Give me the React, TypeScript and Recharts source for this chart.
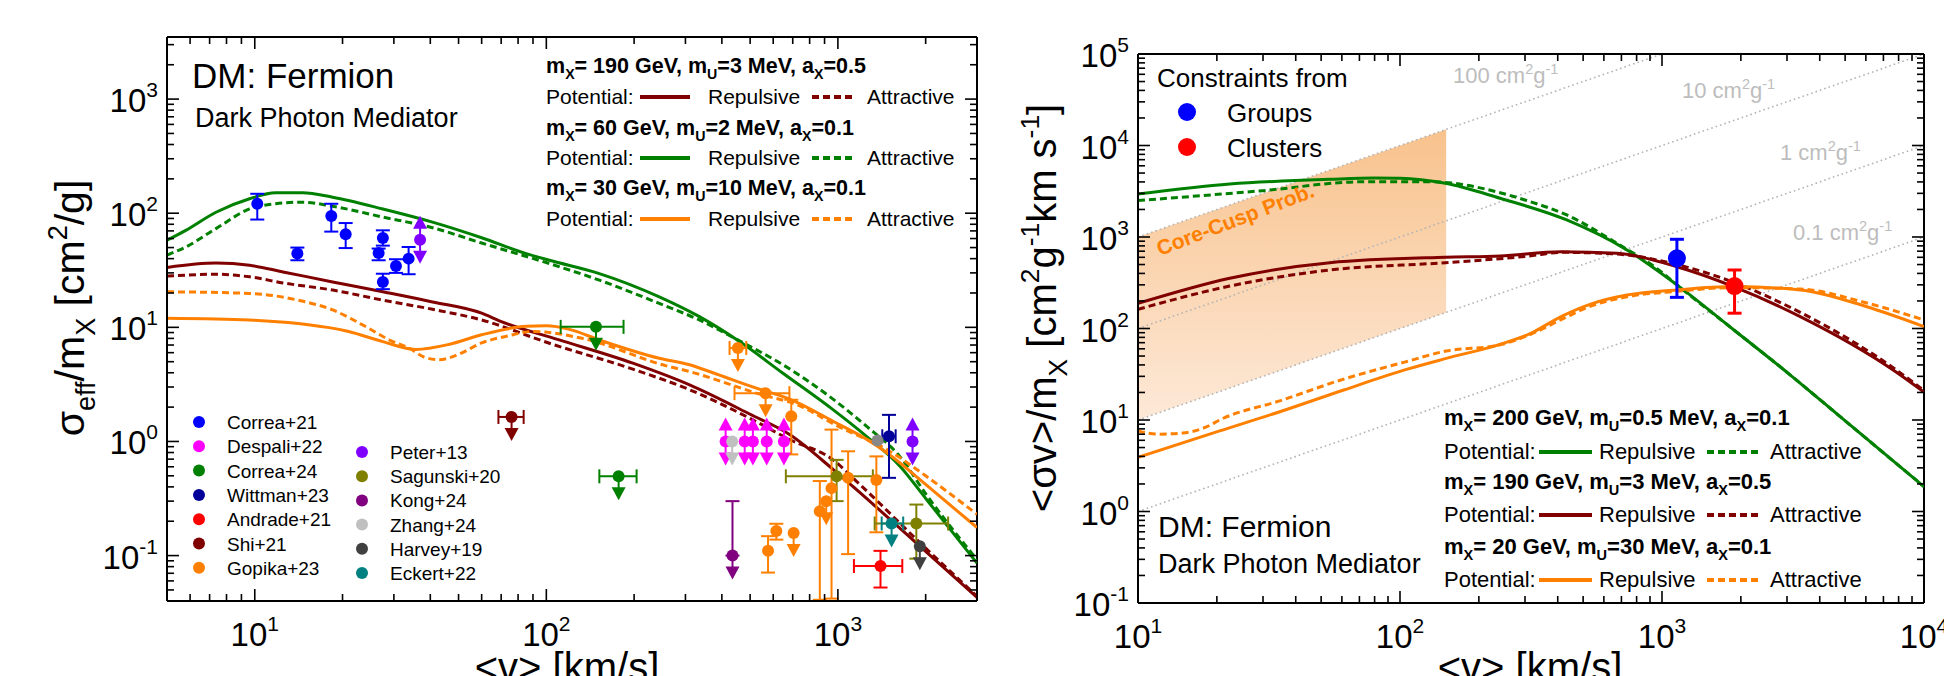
import React from 'react';
import { ComposedChart, Line, Scatter, Area, XAxis, YAxis, ErrorBar, ReferenceLine } from 'recharts';

const FONT = "'Liberation Sans', Arial, Helvetica, sans-serif";

// ---------- axis ranges ----------
const leftV = [5, 3000];
const leftS = [0.04, 3500];
const rightV = [10, 10000];
const rightS = [0.1, 100000];
const STEPS = [1, 2, 3, 4, 5, 6, 7, 8, 9];

// ---------- left panel: sigma_eff/m_X [cm^2/g] vs <v> ----------
const greenRepL = [[5, 58], [5.8, 70.8], [7.36, 102], [9.6, 134], [11.8, 151], [14.6, 151], [18.5, 138], [27.5, 109], [40.7, 83.6], [60, 61], [85.3, 44.3], [102.5, 38.7], [152, 29.6], [244, 18.5], [335, 12.4], [460, 7.5], [648, 3.96], [962, 1.9], [1253, 1.11], [1630, 0.61], [2014, 0.31], [3000, 0.086]];
const greenAttL = [[5, 43], [5.8, 50.6], [7.36, 73.3], [9.6, 109], [11.8, 121], [14.6, 125], [18.5, 115], [27.5, 92.5], [40.7, 74.6], [60, 54.8], [102.5, 36.2], [152, 25.9], [244, 16.2], [335, 11.6], [460, 7.6], [648, 4.7], [962, 2.35], [1253, 1.36], [1630, 0.74], [2014, 0.34], [3000, 0.092]];
const darkRedRepL = [[5, 33.5], [7.36, 36.6], [9.6, 35], [12.5, 30.6], [18.5, 25], [27.5, 20.5], [40.7, 16.7], [60, 13.3], [69, 11.4], [110, 7.8], [198, 4.85], [310, 3.13], [498, 1.74], [683, 1.15], [962, 0.57], [1156, 0.38], [1960, 0.114], [3000, 0.043]];
const darkRedAttL = [[5, 28.1], [7.36, 29.2], [9.6, 27.7], [12.5, 24.5], [18.5, 21.2], [27.5, 17.3], [40.7, 14.4], [60, 11.6], [102.5, 7.25], [198, 4.3], [310, 2.84], [498, 1.6], [683, 1.04], [962, 0.69], [1156, 0.45], [1960, 0.122], [3000, 0.044]];
const orangeRepL = [[5, 12.0], [9.6, 11.6], [14.1, 10.8], [21, 9.2], [27.5, 7.5], [35.7, 6.4], [46.5, 7.1], [60, 8.6], [85.3, 10.2], [100, 10.3], [120, 9.6], [152, 7.75], [244, 5.36], [310, 4.7], [383, 3.9], [525, 2.93], [683, 2.35], [988, 1.45], [1250, 1.05], [1507, 0.76], [2000, 0.42], [3000, 0.176]];
const orangeAttL = [[5, 20.5], [9.6, 19.8], [14.1, 17.3], [18.5, 14.2], [24.1, 10.1], [29, 7.74], [33.9, 6.56], [38, 5.5], [43, 5.2], [50, 5.8], [60, 7.3], [73.6, 8.4], [90, 9.2], [133, 8.0], [258, 4.6], [310, 4.1], [437, 3.1], [525, 2.65], [740, 2.05], [988, 1.38], [1507, 0.82], [2000, 0.5], [3000, 0.23]];

type Pt = { v: number; s: number; vLo?: number; vHi?: number; sLo?: number; sHi?: number; lim?: 'down' | 'both' };

const correa21: Pt[] = [
  { v: 10.2, s: 121, sLo: 88, sHi: 148 },
  { v: 14.0, s: 44.3, sLo: 38.7, sHi: 50 },
  { v: 18.3, s: 94.4, sLo: 69, sHi: 121 },
  { v: 20.5, s: 65.3, sLo: 49.5, sHi: 82 },
  { v: 27.5, s: 60.7, sLo: 52, sHi: 70.8 },
  { v: 26.6, s: 44.8, sLo: 38.7, sHi: 49 },
  { v: 27.5, s: 25, sLo: 21.6, sHi: 29.5 },
  { v: 30.5, s: 34.5, sLo: 30, sHi: 39.5 },
  { v: 33.7, s: 40, sLo: 29.2, sHi: 50.6 },
];
const despali22: Pt[] = [
  { v: 412, s: 1, lim: 'both' }, { v: 479, s: 1, lim: 'both' }, { v: 511, s: 1, lim: 'both' },
  { v: 570, s: 1, lim: 'both' }, { v: 653, s: 1, lim: 'both' },
];
const correa24: Pt[] = [
  { v: 148, s: 10.1, vLo: 112, vHi: 184, lim: 'down' },
  { v: 177, s: 0.495, vLo: 152, vHi: 204, lim: 'down' },
];
const wittman23: Pt[] = [{ v: 1497, s: 1.11, vLo: 1420, vHi: 1578, sLo: 0.48, sHi: 1.71 }];
const andrade21: Pt[] = [{ v: 1400, s: 0.081, vLo: 1135, vHi: 1663, sLo: 0.0525, sHi: 0.11 }];
const shi21: Pt[] = [{ v: 76, s: 1.64, vLo: 68.5, vHi: 83.6, lim: 'down' }];
const gopika23: Pt[] = [
  { v: 454, s: 6.6, vLo: 425, vHi: 485, lim: 'down' },
  { v: 565, s: 2.65, vLo: 442, vHi: 682, lim: 'down' },
  { v: 692, s: 1.66, sLo: 0.77, sHi: 2.32 },
  { v: 867, s: 0.245, sLo: 0.041, sHi: 0.45 },
  { v: 951, s: 0.39, sLo: 0.042, sHi: 1.27 },
  { v: 912, s: 0.3, lim: 'down' },
  { v: 1084, s: 0.48, sLo: 0.103, sHi: 0.82 },
  { v: 1355, s: 0.46, sLo: 0.16, sHi: 0.74 },
  { v: 615, s: 0.164, sLo: 0.138, sHi: 0.19 },
  { v: 576, s: 0.11, sLo: 0.071, sHi: 0.148 },
  { v: 705, s: 0.158, lim: 'down' },
];
const peter13: Pt[] = [{ v: 36.9, s: 58.6, lim: 'both' }, { v: 1803, s: 1.0, lim: 'both' }];
const sagunski20: Pt[] = [
  { v: 990, s: 0.495, vLo: 663, vHi: 1318, sLo: 0.3, sHi: 0.69 },
  { v: 1858, s: 0.191, vLo: 1337, vHi: 2388, sLo: 0.094, sHi: 0.28 },
];
const kong24: Pt[] = [{ v: 435, s: 0.1, sLo: 0.1, sHi: 0.3, lim: 'down' }];
const zhang24: Pt[] = [{ v: 434, s: 1.0, lim: 'down' }];
const harvey19: Pt[] = [{ v: 1910, s: 0.121, lim: 'down' }];
const harvey19b: Pt[] = [{ v: 1367, s: 1.02 }];
const eckert22: Pt[] = [{ v: 1528, s: 0.191, vLo: 1413, vHi: 1675, lim: 'down' }];

const refNames = ['Correa+21', 'Despali+22', 'Correa+24', 'Wittman+23', 'Andrade+21', 'Shi+21', 'Gopika+23', 'Peter+13', 'Sagunski+20', 'Kong+24', 'Zhang+24', 'Harvey+19', 'Eckert+22'];
const refPoints = [correa21, despali22, correa24, wittman23, andrade21, shi21, gopika23, peter13, sagunski20, kong24, zhang24, harvey19, eckert22];
const refColors = ['#0000ff', '#ff00ff', '#008000', '#000099', '#ff0000', '#800000', '#ff8000', '#8000ff', '#808000', '#800080', '#c0c0c0', '#404040', '#008080'];

// ---------- right panel: <sigma v>/m_X vs <v> ----------
const greenRepR = [[10, 2950], [22.4, 3790], [54, 4270], [80, 4400], [100, 4380], [149, 3860], [241, 2650], [433, 1535], [735, 721], [1140, 300], [1876, 97], [3090, 31], [4800, 10.8], [10000, 1.87]];
const greenAttR = [[10, 2500], [30, 3210], [72.5, 4020], [130, 4020], [241, 3050], [305, 2500], [433, 1740], [673, 853], [1000, 410], [1140, 300], [1876, 97], [3090, 31], [4800, 10.8], [10000, 1.87]];
const darkRedRepR = [[10, 188], [22.4, 354], [54, 524], [149, 600], [241, 620], [412, 690], [673, 663], [1140, 473], [1876, 287], [3370, 135], [7650, 35], [10000, 20.2]];
const darkRedAttR = [[10, 162], [22.4, 291], [54, 436], [149, 524], [312, 620], [412, 680], [673, 650], [1140, 500], [1876, 320], [3370, 150], [7650, 37], [10000, 21]];
const orangeRepR = [[10, 3.9], [20.5, 7.6], [35, 12.4], [61, 21.3], [105, 35.5], [150, 47.1], [239, 66.7], [314, 88], [412, 135], [541, 187], [735, 232], [1140, 264], [1876, 287], [3370, 264], [6050, 173], [10000, 105]];
const orangeAttR = [[10, 7.6], [11.9, 7.0], [14.8, 7.2], [18.4, 8.5], [20.5, 10], [35, 16.3], [61, 28], [105, 43.2], [150, 56.7], [239, 66], [314, 86], [412, 125], [541, 178], [735, 222], [1140, 255], [1876, 280], [3370, 270], [6050, 190], [10000, 124]];
const groups: Pt[] = [{ v: 1140, s: 585, sLo: 219, sHi: 944 }];
const clusters: Pt[] = [{ v: 1892, s: 291, sLo: 147, sHi: 436 }];
const crossSections = [100, 10, 1, 0.1]; // cm^2/g
const corecuspV = [10, 150];
const corecuspK = [1, 100];

// ---------- helpers ----------
const GREEN = '#008000';
const DARKRED = '#800000';
const ORANGE = '#ff8000';

const curve = (pts: number[][]) => pts.map(([x, y]) => ({ x, y }));
const rows = (pts: Pt[]) =>
  pts.map((p) => ({
    x: p.v,
    y: p.s,
    lim: p.lim,
    ex: p.vLo != null ? [p.v - p.vLo, (p.vHi as number) - p.v] : undefined,
    ey: p.sLo != null ? [p.s - p.sLo, (p.sHi as number) - p.s] : undefined,
  }));

const logTicks = (lo: number, hi: number) => {
  const out: number[] = [];
  for (let e = Math.floor(Math.log10(lo)); e <= Math.ceil(Math.log10(hi)); e++) {
    for (const m of STEPS) {
      const v = +(m * Math.pow(10, e)).toPrecision(6);
      if (v >= lo * 0.999 && v <= hi * 1.001) out.push(v);
    }
  }
  return out;
};
const isMajor = (v: number) => {
  const e = Math.log10(v);
  return Math.abs(e - Math.round(e)) < 1e-6;
};

const xTick = (plotH: number) => (p: any) => {
  const { x, y, payload } = p;
  const v = payload.value as number;
  const major = isMajor(v);
  const len = major ? 12 : 7;
  return (
    <g>
      <line x1={x} x2={x} y1={y} y2={y - len} stroke="#000" strokeWidth={1.6} />
      <line x1={x} x2={x} y1={y - plotH} y2={y - plotH + len} stroke="#000" strokeWidth={1.6} />
      {major && (
        <text x={x} y={y + 45} textAnchor="middle" fontSize={33} fill="#000" fontFamily={FONT}>
          10<tspan dy={-15} fontSize={21}>{Math.round(Math.log10(v))}</tspan>
        </text>
      )}
    </g>
  );
};
const yTick = (plotW: number) => (p: any) => {
  const { x, y, payload } = p;
  const v = payload.value as number;
  const major = isMajor(v);
  const len = major ? 12 : 7;
  return (
    <g>
      <line x1={x} x2={x + len} y1={y} y2={y} stroke="#000" strokeWidth={1.6} />
      <line x1={x + plotW} x2={x + plotW - len} y1={y} y2={y} stroke="#000" strokeWidth={1.6} />
      {major && (
        <text x={x - 9} y={y + 13} textAnchor="end" fontSize={33} fill="#000" fontFamily={FONT}>
          10<tspan dy={-15} fontSize={21}>{Math.round(Math.log10(v))}</tspan>
        </text>
      )}
    </g>
  );
};

const noShape = () => <g />;
const marker = (color: string, r: number) => (p: any) => {
  const { cx, cy, payload } = p;
  if (cx == null || cy == null) return <g />;
  const lim = payload?.lim;
  const down = lim === 'down' || lim === 'both';
  const up = lim === 'both';
  return (
    <g>
      {down && <line x1={cx} x2={cx} y1={cy} y2={cy + 13} stroke={color} strokeWidth={2} />}
      {down && <polygon points={`${cx - 7},${cy + 11} ${cx + 7},${cy + 11} ${cx},${cy + 24}`} fill={color} />}
      {up && <line x1={cx} x2={cx} y1={cy} y2={cy - 13} stroke={color} strokeWidth={2} />}
      {up && <polygon points={`${cx - 7},${cy - 11} ${cx + 7},${cy - 11} ${cx},${cy - 24}`} fill={color} />}
      <circle cx={cx} cy={cy} r={r} fill={color} />
    </g>
  );
};

function pointSeries(id: string, pts: Pt[], color: string, r: number, cap: number, sw: number) {
  const all = rows(pts);
  const withY = all.filter((d) => d.ey);
  const withX = all.filter((d) => d.ex);
  const out: React.ReactElement[] = [];
  if (withY.length)
    out.push(
      <Scatter key={id + '-ey'} data={withY} fill={color} shape={noShape} isAnimationActive={false}>
        <ErrorBar dataKey="ey" direction="y" width={cap} stroke={color} strokeWidth={sw} isAnimationActive={false} />
      </Scatter>
    );
  if (withX.length)
    out.push(
      <Scatter key={id + '-ex'} data={withX} fill={color} shape={noShape} isAnimationActive={false}>
        <ErrorBar dataKey="ex" direction="x" width={cap} stroke={color} strokeWidth={sw} isAnimationActive={false} />
      </Scatter>
    );
  out.push(<Scatter key={id} data={all} fill={color} shape={marker(color, r)} isAnimationActive={false} />);
  return out;
}

const curveLine = (id: string, pts: number[][], color: string, dashed: boolean) => (
  <Line
    key={id}
    data={curve(pts)}
    dataKey="y"
    type="monotone"
    stroke={color}
    strokeWidth={3}
    strokeDasharray={dashed ? '7 4' : undefined}
    dot={false}
    activeDot={false}
    isAnimationActive={false}
  />
);

// rich text: segments [text, 0 normal | 1 sup | -1 sub]
function rich(segs: [string, number][], size: number) {
  let cur = 0;
  return segs.map(([t, k], i) => {
    const target = k === 1 ? -size * 0.42 : k === -1 ? size * 0.28 : 0;
    const dy = target - cur;
    cur = target;
    return (
      <tspan key={i} dy={dy} fontSize={k ? size * 0.66 : size}>
        {t}
      </tspan>
    );
  });
}

const paramLine = (mx: string, mu: string, ax: string): [string, number][] => [
  ['m', 0], ['X', -1], [`= ${mx} GeV, m`, 0], ['U', -1], [`=${mu} MeV, a`, 0], ['X', -1], [`=${ax}`, 0],
];

function ModelLegend({ x0, rowsY, items, cols, fs, bfs }: { x0: number; rowsY: number[]; items: { p: string[]; c: string }[]; cols: number[]; fs: number; bfs: number }) {
  return (
    <g fontFamily={FONT} fill="#000">
      {items.map((it, i) => {
        const y1 = rowsY[i * 2];
        const y2 = rowsY[i * 2 + 1];
        return (
          <g key={i}>
            <text x={x0} y={y1} fontSize={bfs} fontWeight="bold">
              {rich(paramLine(it.p[0], it.p[1], it.p[2]), bfs)}
            </text>
            <text x={x0} y={y2} fontSize={fs}>Potential:</text>
            <line x1={cols[0]} x2={cols[1]} y1={y2 - 7} y2={y2 - 7} stroke={it.c} strokeWidth={4} />
            <text x={cols[2]} y={y2} fontSize={fs}>Repulsive</text>
            <line x1={cols[3]} x2={cols[4]} y1={y2 - 7} y2={y2 - 7} stroke={it.c} strokeWidth={4} strokeDasharray="7 4" />
            <text x={cols[5]} y={y2} fontSize={fs}>Attractive</text>
          </g>
        );
      })}
    </g>
  );
}

const LP = { left: 167, top: 37, right: 977, bottom: 601 };
const RP = { left: 1138, top: 54, right: 1924, bottom: 603 };
const R_OFF = 990;

export default function App() {
  const lW = LP.right - LP.left;
  const lH = LP.bottom - LP.top;
  const rW = RP.right - RP.left;
  const rH = RP.bottom - RP.top;
  const bandData = corecuspV.map((v) => ({ x: v, range: [v * corecuspK[0], v * corecuspK[1]] }));

  return (
    <div style={{ position: 'absolute', left: 0, top: 0, width: 1944, height: 676, background: '#fff', fontFamily: FONT, overflow: 'hidden' }}>
      <div style={{ position: 'absolute', left: 0, top: 0 }}>
        <ComposedChart width={990} height={676} margin={{ top: LP.top, right: 990 - LP.right, bottom: 676 - LP.bottom - 30, left: LP.left - 60 }}>
          <XAxis dataKey="x" type="number" scale="log" domain={leftV} allowDataOverflow ticks={logTicks(leftV[0], leftV[1])} interval={0} height={30} tickLine={false} tickSize={0} tickMargin={0} axisLine={{ stroke: '#000', strokeWidth: 2 }} tick={xTick(lH)} />
          <YAxis dataKey="y" type="number" scale="log" domain={leftS} allowDataOverflow ticks={logTicks(leftS[0], leftS[1])} interval={0} width={60} tickLine={false} tickSize={0} tickMargin={0} axisLine={{ stroke: '#000', strokeWidth: 2 }} tick={yTick(lW)} />
          <ReferenceLine y={leftS[1]} stroke="#000" strokeWidth={2} />
          <ReferenceLine x={leftV[1]} stroke="#000" strokeWidth={2} />
          {curveLine('gA', greenAttL, GREEN, true)}
          {curveLine('gR', greenRepL, GREEN, false)}
          {curveLine('dA', darkRedAttL, DARKRED, true)}
          {curveLine('dR', darkRedRepL, DARKRED, false)}
          {curveLine('oA', orangeAttL, ORANGE, true)}
          {curveLine('oR', orangeRepL, ORANGE, false)}
          {pointSeries('harveyb', harvey19b, '#888888', 6, 7, 2)}
          {refPoints.map((pts, i) => pointSeries('ref' + i, pts, refColors[i], 6, 7, 2))}
        </ComposedChart>
      </div>

      <div style={{ position: 'absolute', left: R_OFF, top: 0 }}>
        <ComposedChart width={954} height={676} margin={{ top: RP.top, right: 1944 - RP.right, bottom: 676 - RP.bottom - 30, left: RP.left - R_OFF - 60 }}>
          <defs>
            <linearGradient id="ccGrad" x1="0" y1="0" x2="0" y2="1">
              <stop offset="0%" stopColor="#f8c28c" />
              <stop offset="100%" stopColor="#fde9d8" />
            </linearGradient>
          </defs>
          <XAxis dataKey="x" type="number" scale="log" domain={rightV} allowDataOverflow ticks={logTicks(rightV[0], rightV[1])} interval={0} height={30} tickLine={false} tickSize={0} tickMargin={0} axisLine={{ stroke: '#000', strokeWidth: 2 }} tick={xTick(rH)} />
          <YAxis dataKey="y" type="number" scale="log" domain={rightS} allowDataOverflow ticks={logTicks(rightS[0], rightS[1])} interval={0} width={60} tickLine={false} tickSize={0} tickMargin={0} axisLine={{ stroke: '#000', strokeWidth: 2 }} tick={yTick(rW)} />
          <Area data={bandData} dataKey="range" type="linear" stroke="none" fill="url(#ccGrad)" fillOpacity={1} isAnimationActive={false} />
          {crossSections.map((k, i) => (
            <Line
              key={'cs' + i}
              data={[{ x: rightV[0], y: rightV[0] * k }, { x: Math.min(rightV[1], rightS[1] / k), y: Math.min(rightV[1], rightS[1] / k) * k }]}
              dataKey="y"
              type="linear"
              stroke="#b4b4b4"
              strokeWidth={1.6}
              strokeDasharray="1.6 3"
              dot={false}
              activeDot={false}
              isAnimationActive={false}
            />
          ))}
          <ReferenceLine y={rightS[1]} stroke="#000" strokeWidth={2} />
          <ReferenceLine x={rightV[1]} stroke="#000" strokeWidth={2} />
          {curveLine('rgA', greenAttR, GREEN, true)}
          {curveLine('rgR', greenRepR, GREEN, false)}
          {curveLine('rdA', darkRedAttR, DARKRED, true)}
          {curveLine('rdR', darkRedRepR, DARKRED, false)}
          {curveLine('roA', orangeAttR, ORANGE, true)}
          {curveLine('roR', orangeRepR, ORANGE, false)}
          {pointSeries('groups', groups, '#0000ff', 9, 7, 3)}
          {pointSeries('clusters', clusters, '#ff0000', 9, 7, 3)}
        </ComposedChart>
      </div>

      <svg width={1944} height={676} style={{ position: 'absolute', left: 0, top: 0, pointerEvents: 'none' }} fontFamily={FONT}>
        {/* left panel annotations */}
        <text x={192} y={88} fontSize={35}>DM: Fermion</text>
        <text x={195} y={127} fontSize={27}>Dark Photon Mediator</text>
        <ModelLegend
          x0={546}
          rowsY={[73, 104, 135, 165, 195, 226]}
          items={[{ p: ['190', '3', '0.5'], c: DARKRED }, { p: ['60', '2', '0.1'], c: GREEN }, { p: ['30', '10', '0.1'], c: ORANGE }]}
          cols={[640, 690, 708, 812, 853, 867]}
          fs={21}
          bfs={21.5}
        />
        {refNames.map((n, i) => {
          const col = i < 7 ? 0 : 1;
          const row = col === 0 ? i : i - 7;
          const cy = col === 0 ? 422 + row * 24.3 : 452 + row * 24.2;
          const cx = col === 0 ? 199 : 362;
          return (
            <g key={n}>
              <circle cx={cx} cy={cy} r={6} fill={refColors[i]} />
              <text x={cx + 28} y={cy + 7} fontSize={19}>{n}</text>
            </g>
          );
        })}
        <text x={567} y={681} fontSize={40} textAnchor="middle">{'<v> [km/s]'}</text>
        <text x={84} y={308} fontSize={41} textAnchor="middle" transform="rotate(-90 84 308)">
          {rich([['σ', 0], ['eff', -1], ['/m', 0], ['X', -1], [' [cm', 0], ['2', 1], ['/g]', 0]], 41)}
        </text>

        {/* right panel annotations */}
        <text x={1157} y={87} fontSize={26}>Constraints from</text>
        <circle cx={1187} cy={112} r={9} fill="#0000ff" />
        <text x={1227} y={122} fontSize={26}>Groups</text>
        <circle cx={1187} cy={147} r={9} fill="#ff0000" />
        <text x={1227} y={157} fontSize={26}>Clusters</text>
        <g fill="#bdbdbd">
          <text x={1453} y={83} fontSize={22}>{rich([['100 cm', 0], ['2', 1], ['g', 0], ['-1', 1]], 22)}</text>
          <text x={1682} y={98} fontSize={22}>{rich([['10 cm', 0], ['2', 1], ['g', 0], ['-1', 1]], 22)}</text>
          <text x={1780} y={160} fontSize={22}>{rich([['1 cm', 0], ['2', 1], ['g', 0], ['-1', 1]], 22)}</text>
          <text x={1793} y={240} fontSize={22}>{rich([['0.1 cm', 0], ['2', 1], ['g', 0], ['-1', 1]], 22)}</text>
        </g>
        <text x={1160} y={256} fontSize={21} fontWeight="bold" fill={ORANGE} transform="rotate(-21 1160 256)">Core-Cusp Prob.</text>
        <ModelLegend
          x0={1444}
          rowsY={[425, 459, 489, 522, 554, 587]}
          items={[{ p: ['200', '0.5', '0.1'], c: GREEN }, { p: ['190', '3', '0.5'], c: DARKRED }, { p: ['20', '30', '0.1'], c: ORANGE }]}
          cols={[1539, 1592, 1599, 1707, 1759, 1770]}
          fs={22}
          bfs={22}
        />
        <text x={1158} y={537} fontSize={30}>DM: Fermion</text>
        <text x={1158} y={573} fontSize={27}>Dark Photon Mediator</text>
        <text x={1530} y={681} fontSize={40} textAnchor="middle">{'<v> [km/s]'}</text>
        <text x={1056} y={308} fontSize={40} textAnchor="middle" transform="rotate(-90 1056 308)">
          {rich([['<σv>/m', 0], ['X', -1], [' [cm', 0], ['2', 1], ['g', 0], ['-1', 1], ['km s', 0], ['-1', 1], [']', 0]], 40)}
        </text>
      </svg>
    </div>
  );
}
